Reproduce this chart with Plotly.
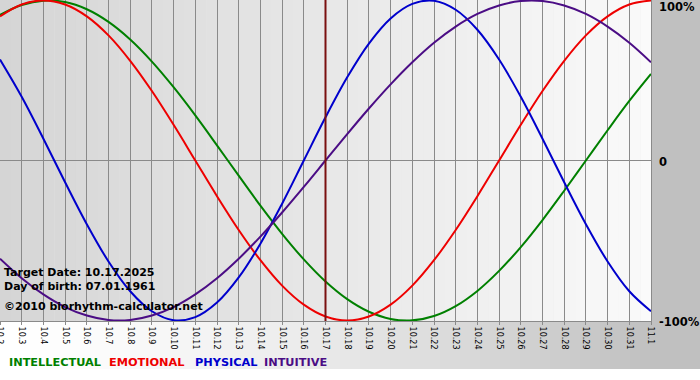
import plotly.graph_objects as go

# ---- data ----
dates = ["10.2", "10.3", "10.4", "10.5", "10.6", "10.7", "10.8", "10.9", "10.10",
         "10.11", "10.12", "10.13", "10.14", "10.15", "10.16", "10.17", "10.18",
         "10.19", "10.20", "10.21", "10.22", "10.23", "10.24", "10.25", "10.26",
         "10.27", "10.28", "10.29", "10.30", "10.31", "11.1"]

intellectual = [0.910, 0.972, 0.999, 0.990, 0.945, 0.866, 0.756, 0.618, 0.458,
                0.282, 0.095, -0.095, -0.282, -0.458, -0.618, -0.756, -0.866,
                -0.945, -0.990, -0.999, -0.972, -0.910, -0.815, -0.690, -0.541,
                -0.372, -0.189, 0.000, 0.189, 0.372, 0.541]

emotional = [0.901, 0.975, 1.000, 0.975, 0.901, 0.782, 0.623, 0.434, 0.223,
             0.000, -0.223, -0.434, -0.623, -0.782, -0.901, -0.975, -1.000,
             -0.975, -0.901, -0.782, -0.623, -0.434, -0.223, 0.000, 0.223,
             0.434, 0.623, 0.782, 0.901, 0.975, 1.000]

physical = [0.631, 0.398, 0.136, -0.136, -0.398, -0.631, -0.817, -0.942, -0.998,
            -0.979, -0.888, -0.731, -0.520, -0.270, 0.000, 0.270, 0.520, 0.731,
            0.888, 0.979, 0.998, 0.942, 0.817, 0.631, 0.398, 0.136, -0.136,
            -0.398, -0.631, -0.817, -0.942]

intuitive = [-0.614, -0.736, -0.837, -0.916, -0.969, -0.997, -0.997, -0.969,
             -0.916, -0.837, -0.736, -0.614, -0.476, -0.325, -0.165, 0.000,
             0.165, 0.325, 0.476, 0.614, 0.736, 0.837, 0.916, 0.969, 0.997,
             0.997, 0.969, 0.916, 0.837, 0.736, 0.614]

series_names = ["INTELLECTUAL", "EMOTIONAL", "PHYSICAL", "INTUITIVE"]
target_date = "10.17"
info_lines = ["Target Date: 10.17.2025", "Day of birth: 07.01.1961",
              "\u00a92010 biorhythm-calculator.net"]
y_tick_text = ["100%", "0", "-100%"]

# ---- styling ----
W, H = 700, 380
PL, PR, PT, PB = 0, 651, 0, 321   # plot area in pixels
FONT = "DejaVu Sans"
colors = ["#008000", "#ee0000", "#0000cc", "#4b0d85"]


def pxx(px):
    return (px - PL) / (PR - PL)


def pxy(py):
    return (PB - py) / (PB - PT)


fig = go.Figure()
for name, vals, col in zip(series_names,
                           [intellectual, emotional, physical, intuitive],
                           colors):
    fig.add_trace(go.Scatter(x=dates, y=vals, mode="lines", name=name,
                             line=dict(color=col, width=2, shape="spline",
                                       smoothing=1),
                             hoverinfo="skip"))

shapes = []
# outer background gradient (white -> gray)
n_out = 70
for i in range(n_out):
    x0 = W * i / n_out
    x1 = W * (i + 1) / n_out
    xm = (x0 + x1) / 2
    t = min(xm / 650.0, 1.0)
    c = int(round(255 - 63 * t ** 1.5))
    shapes.append(dict(type="rect", xref="paper", yref="paper",
                       x0=pxx(x0), x1=pxx(x1 + 0.5), y0=pxy(369), y1=pxy(0),
                       fillcolor=f"rgb({c},{c},{c})", line=dict(width=0),
                       layer="below"))
# plot area gradient
n_in = 60
for i in range(n_in):
    x0 = PL + (PR - PL) * i / n_in
    x1 = PL + (PR - PL) * (i + 1) / n_in
    t = ((x0 + x1) / 2 - PL) / (PR - PL)
    c = int(round(0xd5 + (0xfa - 0xd5) * t))
    shapes.append(dict(type="rect", xref="paper", yref="paper",
                       x0=pxx(x0), x1=pxx(x1 + 0.5), y0=0, y1=1,
                       fillcolor=f"rgb({c},{c},{c})", line=dict(width=0),
                       layer="below"))
# target date marker (category index of the target date)
t_idx = dates.index(target_date)
shapes.append(dict(type="line", xref="x", yref="paper", x0=t_idx,
                   x1=t_idx, y0=0, y1=1,
                   line=dict(color="#7a1010", width=2), layer="above"))

annotations = []
for txt, py in zip(info_lines, [272, 286.5, 306.5]):
    annotations.append(dict(text=f"<b>{txt}</b>", xref="paper", yref="paper",
                            x=pxx(2), y=pxy(py), xanchor="left",
                            yanchor="middle", showarrow=False,
                            font=dict(family=FONT, size=11, color="black")))
for txt, py in zip(y_tick_text, [7, 162, 322]):
    annotations.append(dict(text=f"<b>{txt}</b>", xref="paper", yref="paper",
                            x=pxx(657), y=pxy(py), xanchor="left",
                            yanchor="middle", showarrow=False,
                            font=dict(family=FONT, size=11.5, color="black")))
for name, col, px in zip(series_names, colors, [7, 107, 193, 262]):
    annotations.append(dict(text=f"<b>{name}</b>", xref="paper", yref="paper",
                            x=pxx(px), y=pxy(362.5), xanchor="left",
                            yanchor="middle", showarrow=False,
                            font=dict(family=FONT, size=11.3, color=col)))

fig.update_layout(
    width=W, height=H, autosize=False,
    margin=dict(l=PL, r=W - PR, t=PT, b=H - PB, pad=0, autoexpand=False),
    paper_bgcolor="white", plot_bgcolor="rgba(0,0,0,0)",
    showlegend=False,
    shapes=shapes, annotations=annotations,
    xaxis=dict(type="category", range=[0, len(dates) - 1], automargin=False,
               showgrid=True, gridcolor="#8a8a8a", gridwidth=1,
               showline=True, linecolor="#8a8a8a", linewidth=1, mirror=True,
               ticks="outside", ticklen=3, tickcolor="#8a8a8a",
               tickangle=90, tickfont=dict(family=FONT, size=8, color="black"),
               fixedrange=True),
    yaxis=dict(range=[-1.003, 1.003], showgrid=False, zeroline=True,
               automargin=False,
               zerolinecolor="#8a8a8a", zerolinewidth=1,
               showline=True, linecolor="#8a8a8a", linewidth=1, mirror=True,
               showticklabels=False, ticks="", fixedrange=True),
)

fig.write_html("out.html", config={"displayModeBar": False},
               post_script="document.body.style.margin='0';"
                           "document.body.style.padding='0';")
